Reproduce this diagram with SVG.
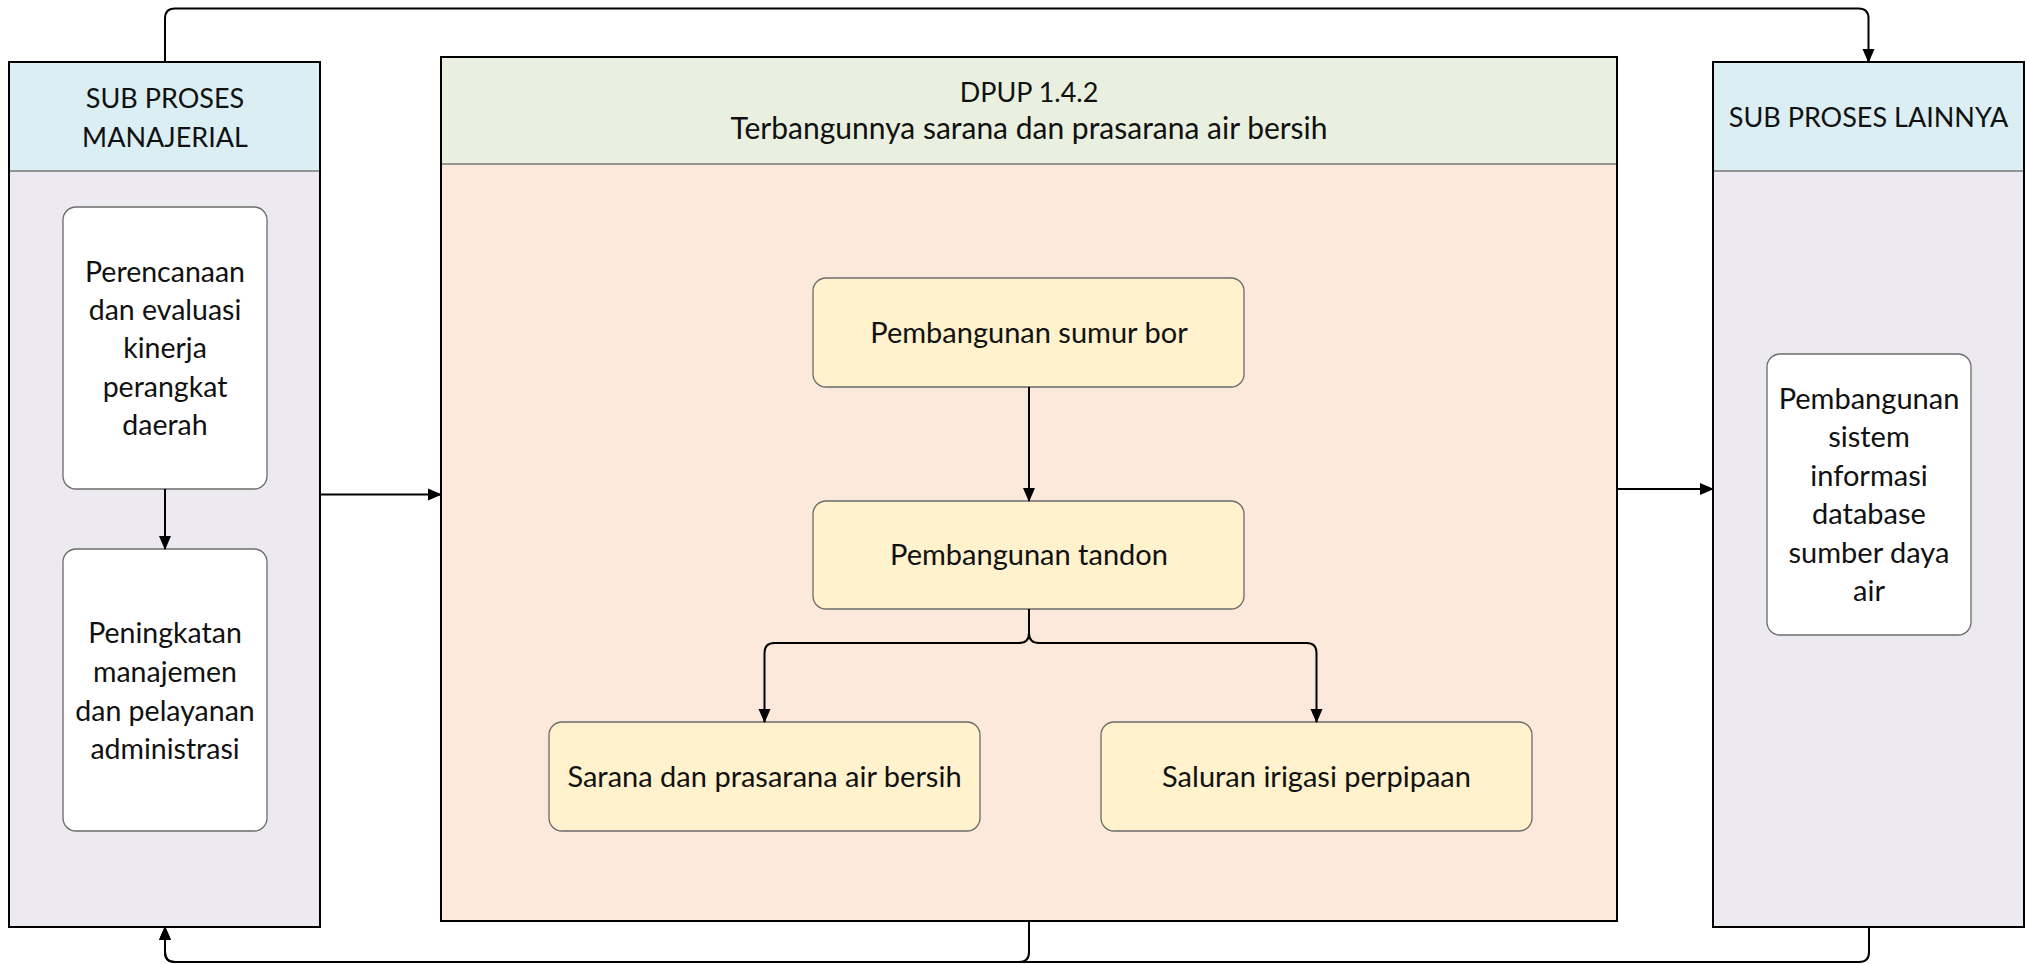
<svg xmlns="http://www.w3.org/2000/svg" width="2026" height="964" viewBox="0 0 2026 964">
<defs>
<style>
.panel{stroke:#000;stroke-width:2}
.div{stroke:#777;stroke-width:1.5;fill:none}
.hdr{fill:#DBEEF4}
.body{fill:#ECE9F1}
.box{fill:#fff;stroke:#6b6b6b;stroke-width:1.3}
.ybox{fill:#FFF2CC;stroke:#6b6b6b;stroke-width:1.3}
.t{font-family:Lato,"Liberation Sans",sans-serif;fill:#111;text-anchor:middle}
.h{font-size:27px}
.s{font-size:28.5px}
.m{font-size:29px}
.sub{font-size:30px}
.c{fill:none;stroke:#000;stroke-width:2}
</style>
<marker id="arr" markerUnits="userSpaceOnUse" markerWidth="14" markerHeight="14" viewBox="0 0 14 12" refX="13" refY="6" orient="auto">
<path d="M0,0 L14,6 L0,12 Z" fill="#000"/>
</marker>
</defs>
<rect width="2026" height="964" fill="#fff"/>

<g id="manajerial">
<rect class="body" x="9" y="62" width="311" height="865"/>
<rect class="hdr" x="9" y="62" width="311" height="109"/>
<line class="div" x1="9" y1="171" x2="320" y2="171"/>
<rect class="panel" x="9" y="62" width="311" height="865" fill="none"/>
<text class="t h" x="165" y="108">SUB PROSES</text>
<text class="t h" x="165" y="147">MANAJERIAL</text>
</g>

<g id="perencanaan">
<rect class="box" x="63" y="207" width="204" height="282" rx="13"/>
<text class="t s" x="165" y="282">Perencanaan</text>
<text class="t s" x="165" y="320">dan evaluasi</text>
<text class="t s" x="165" y="358">kinerja</text>
<text class="t s" x="165" y="397">perangkat</text>
<text class="t s" x="165" y="435">daerah</text>
</g>

<g id="peningkatan">
<rect class="box" x="63" y="549" width="204" height="282" rx="13"/>
<text class="t s" x="165" y="643">Peningkatan</text>
<text class="t s" x="165" y="682">manajemen</text>
<text class="t s" x="165" y="721">dan pelayanan</text>
<text class="t s" x="165" y="759">administrasi</text>
</g>

<g id="dpup">
<rect x="441" y="57" width="1176" height="864" fill="#FCE9DB"/>
<rect x="441" y="57" width="1176" height="107" fill="#E9F0DF"/>
<line class="div" x1="441" y1="164" x2="1617" y2="164"/>
<rect class="panel" x="441" y="57" width="1176" height="864" fill="none"/>
<text class="t h" x="1029" y="102">DPUP 1.4.2</text>
<text class="t sub" x="1029" y="139">Terbangunnya sarana dan prasarana air bersih</text>
</g>

<g id="sumur">
<rect class="ybox" x="813" y="278" width="431" height="109" rx="13"/>
<text class="t m" x="1029" y="343">Pembangunan sumur bor</text>
</g>

<g id="tandon">
<rect class="ybox" x="813" y="501" width="431" height="108" rx="13"/>
<text class="t m" x="1029" y="565">Pembangunan tandon</text>
</g>

<g id="sarana">
<rect class="ybox" x="549" y="722" width="431" height="109" rx="13"/>
<text class="t m" x="764.5" y="787">Sarana dan prasarana air bersih</text>
</g>

<g id="saluran">
<rect class="ybox" x="1101" y="722" width="431" height="109" rx="13"/>
<text class="t m" x="1316.5" y="787">Saluran irigasi perpipaan</text>
</g>

<g id="lainnya">
<rect class="body" x="1713" y="62" width="311" height="865"/>
<rect class="hdr" x="1713" y="62" width="311" height="109"/>
<line class="div" x1="1713" y1="171" x2="2024" y2="171"/>
<rect class="panel" x="1713" y="62" width="311" height="865" fill="none"/>
<text class="t h" x="1868.5" y="127">SUB PROSES LAINNYA</text>
</g>

<g id="sistem">
<rect class="box" x="1767" y="354" width="204" height="281" rx="13"/>
<text class="t m" x="1869" y="409">Pembangunan</text>
<text class="t m" x="1869" y="447">sistem</text>
<text class="t m" x="1869" y="486">informasi</text>
<text class="t m" x="1869" y="524">database</text>
<text class="t m" x="1869" y="563">sumber daya</text>
<text class="t m" x="1869" y="601">air</text>
</g>

<g id="connectors">
<path class="c" d="M165,62 V18.5 Q165,8.5 175,8.5 H1858.5 Q1868.5,8.5 1868.5,18.5 V62" marker-end="url(#arr)"/>
<path class="c" d="M165,489 V549" marker-end="url(#arr)"/>
<path class="c" d="M320,494.5 H441" marker-end="url(#arr)"/>
<path class="c" d="M1617,489 H1713" marker-end="url(#arr)"/>
<path class="c" d="M1029,387 V501" marker-end="url(#arr)"/>
<path class="c" d="M1029,609 V633 Q1029,643 1019,643 H774.5 Q764.5,643 764.5,653 V722" marker-end="url(#arr)"/>
<path class="c" d="M1029,609 V633 Q1029,643 1039,643 H1306.5 Q1316.5,643 1316.5,653 V722" marker-end="url(#arr)"/>
<path class="c" d="M1029,921 V952 Q1029,962 1019,962 H175 Q165,962 165,952 V927" marker-end="url(#arr)"/>
<path class="c" d="M1869,927 V952 Q1869,962 1859,962 H175 Q165,962 165,952 V927" marker-end="url(#arr)"/>
</g>
</svg>
